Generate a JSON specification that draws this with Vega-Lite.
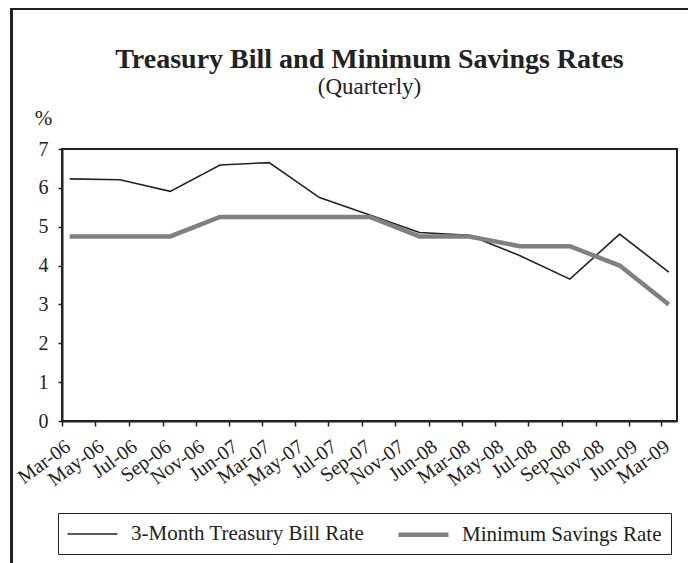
{
  "$schema": "https://vega.github.io/schema/vega-lite/v6.json",
  "autosize": {"type": "none"},
  "padding": {"left": 62, "top": 149, "right": 11, "bottom": 142},
  "width": 615,
  "height": 272,
  "background": "white",
  "title": {
    "text": "Treasury Bill and Minimum Savings Rates",
    "subtitle": "(Quarterly)",
    "anchor": "middle",
    "frame": "group",
    "offset": -91
  },
  "data": {
    "values": [
      {"date": "2006-03-15", "series": "3-Month Treasury Bill Rate", "value": 6.23},
      {"date": "2006-06-15", "series": "3-Month Treasury Bill Rate", "value": 6.21},
      {"date": "2006-09-15", "series": "3-Month Treasury Bill Rate", "value": 5.91},
      {"date": "2006-12-15", "series": "3-Month Treasury Bill Rate", "value": 6.59},
      {"date": "2007-03-15", "series": "3-Month Treasury Bill Rate", "value": 6.65},
      {"date": "2007-06-15", "series": "3-Month Treasury Bill Rate", "value": 5.75},
      {"date": "2007-09-15", "series": "3-Month Treasury Bill Rate", "value": 5.30},
      {"date": "2007-12-15", "series": "3-Month Treasury Bill Rate", "value": 4.85},
      {"date": "2008-03-15", "series": "3-Month Treasury Bill Rate", "value": 4.78},
      {"date": "2008-06-15", "series": "3-Month Treasury Bill Rate", "value": 4.26},
      {"date": "2008-09-15", "series": "3-Month Treasury Bill Rate", "value": 3.65},
      {"date": "2008-12-15", "series": "3-Month Treasury Bill Rate", "value": 4.81},
      {"date": "2009-03-15", "series": "3-Month Treasury Bill Rate", "value": 3.83},
      {"date": "2006-03-15", "series": "Minimum Savings Rate", "value": 4.75},
      {"date": "2006-06-15", "series": "Minimum Savings Rate", "value": 4.75},
      {"date": "2006-09-15", "series": "Minimum Savings Rate", "value": 4.75},
      {"date": "2006-12-15", "series": "Minimum Savings Rate", "value": 5.25},
      {"date": "2007-03-15", "series": "Minimum Savings Rate", "value": 5.25},
      {"date": "2007-06-15", "series": "Minimum Savings Rate", "value": 5.25},
      {"date": "2007-09-15", "series": "Minimum Savings Rate", "value": 5.25},
      {"date": "2007-12-15", "series": "Minimum Savings Rate", "value": 4.75},
      {"date": "2008-03-15", "series": "Minimum Savings Rate", "value": 4.75},
      {"date": "2008-06-15", "series": "Minimum Savings Rate", "value": 4.5},
      {"date": "2008-09-15", "series": "Minimum Savings Rate", "value": 4.5},
      {"date": "2008-12-15", "series": "Minimum Savings Rate", "value": 4.0},
      {"date": "2009-03-15", "series": "Minimum Savings Rate", "value": 3.0}
    ]
  },
  "layer": [
    {
      "mark": {"type": "line", "strokeCap": "butt", "strokeJoin": "miter"},
      "encoding": {
        "x": {
          "field": "date",
          "type": "temporal",
          "scale": {
            "type": "utc",
            "domain": [
              {"year": 2006, "month": 3, "date": 1, "utc": true},
              {"year": 2009, "month": 3, "date": 30, "utc": true}
            ],
            "nice": false
          },
          "axis": {
            "title": null,
            "tickCount": {"interval": "month", "step": 2},
            "labelExpr": "replace(utcFormat(datum.value, '%b-%y'), 'Jan', 'Jun')",
            "labelAngle": -36,
            "labelAlign": "right",
            "labelBaseline": "top",
            "labelPadding": 10,
            "labelOverlap": false,
            "labelFlush": false,
            "labelBound": false,
            "tickSize": 5,
            "grid": false
          }
        },
        "y": {
          "field": "value",
          "type": "quantitative",
          "scale": {"domain": [0, 7], "nice": false, "zero": true},
          "axis": {
            "title": "%",
            "titleAngle": 0,
            "titleX": -19,
            "titleY": -31,
            "titleAlign": "center",
            "titleBaseline": "middle",
            "titleFont": "Liberation Serif",
            "titleFontSize": 21,
            "titleFontWeight": "normal",
            "titleColor": "#222222",
            "values": [0, 1, 2, 3, 4, 5, 6, 7],
            "tickCount": 8,
            "labelOverlap": false,
            "labelFlush": false,
            "format": "d",
            "tickSize": 4,
            "labelPadding": 10,
            "grid": false
          }
        },
        "color": {
          "field": "series",
          "type": "nominal",
          "scale": {"domain": ["3-Month Treasury Bill Rate", "Minimum Savings Rate"], "range": ["#222222", "#808080"]},
          "legend": {"title": null}
        },
        "strokeWidth": {
          "field": "series",
          "type": "nominal",
          "scale": {"domain": ["3-Month Treasury Bill Rate", "Minimum Savings Rate"], "range": [1.6, 4.5]},
          "legend": {"title": null}
        }
      }
    },
    {
      "mark": {"type": "rect", "filled": false, "stroke": "#222222", "strokeWidth": 2, "clip": false},
      "encoding": {
        "x": {"datum": {"year": 2005, "month": 11, "date": 29, "utc": true}, "type": "temporal"},
        "x2": {"datum": {"year": 2009, "month": 6, "date": 1, "utc": true}},
        "y": {"datum": 10.6, "type": "quantitative"},
        "y2": {"datum": -5}
      }
    }
  ],
  "config": {
    "font": "Liberation Serif",
    "view": {"stroke": "#222222", "strokeWidth": 2},
    "title": {
      "font": "Liberation Serif",
      "fontSize": 28,
      "fontWeight": "bold",
      "color": "#222222",
      "subtitleFont": "Liberation Serif",
      "subtitleFontSize": 23,
      "subtitleColor": "#222222",
      "subtitlePadding": 2
    },
    "axis": {
      "labelFont": "Liberation Serif",
      "labelFontSize": 20,
      "labelColor": "#222222",
      "domainColor": "#222222",
      "domainWidth": 2,
      "tickColor": "#222222",
      "tickWidth": 1.5
    },
    "legend": {
      "orient": "none",
      "legendX": -4,
      "legendY": 364,
      "direction": "horizontal",
      "columns": 2,
      "columnPadding": 24,
      "padding": 9,
      "strokeColor": "#222222",
      "symbolType": "M-2.5,0H2.5",
      "symbolSize": 400,
      "symbolOffset": 13,
      "labelFont": "Liberation Serif",
      "labelFontSize": 21,
      "labelColor": "#222222",
      "labelOffset": 26,
      "labelLimit": 400
    }
  }
}
